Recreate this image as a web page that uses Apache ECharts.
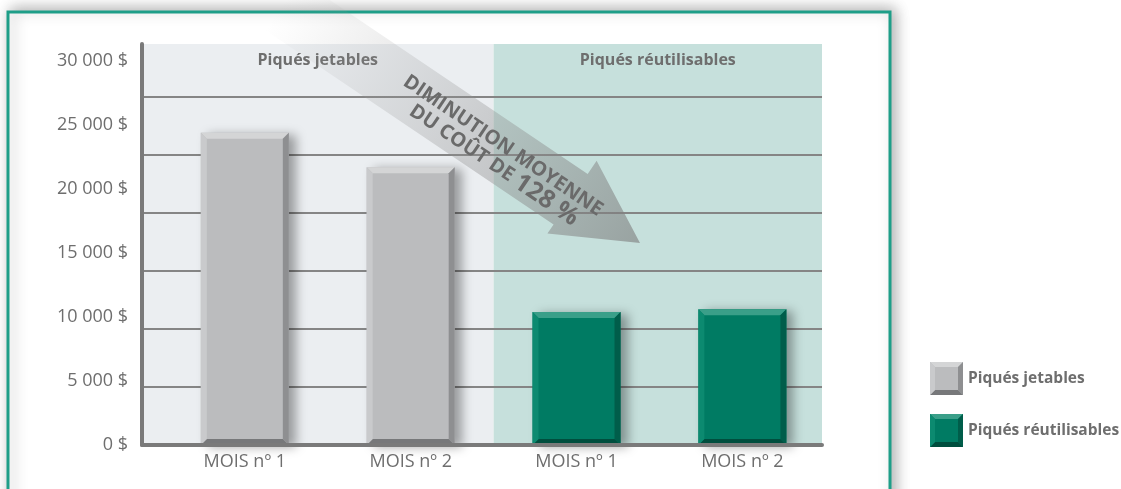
<!DOCTYPE html>
<html><head><meta charset="utf-8">
<script src="https://cdn.jsdelivr.net/npm/echarts@6/dist/echarts.min.js"></script>
<style>html,body{margin:0;padding:0;background:#fff}#c{width:1121px;height:489px}</style>
</head><body><div id="c"></div>
<script>
// ---- data ----
const categories = ['MOIS nº 1', 'MOIS nº 2', 'MOIS nº 1', 'MOIS nº 2'];
const seriesNames = ['Piqués jetables', 'Piqués réutilisables'];
const jetablesIdx = [0, 1];
const jetables = [24400, 21700];
const reutilisablesIdx = [2, 3];
const reutilisables = [10400, 10600];
const yTicks = [0, 5000, 10000, 15000, 20000, 25000, 30000];
const arrowLines = ['DIMINUTION MOYENNE', 'DU COÛT DE '];
const arrowPct = '128 %';

// ---- layout / style ----
const xMin = -0.62, xMax = 3.48, split = 1.5;
const yMax = 31330;
const gridMax = 6.9;
const barW = 88, bev = 6;
const FONT = "'Open Sans', sans-serif";
const txt = '#6e6e6e';

function fmt(v){ return String(v).replace(/\B(?=(\d{3})+(?!\d))/g, '\u00a0') + ' $'; }

function bevelShapes(c, l, r, t, b, withShadow){
  return [
    {type:'rect', shape:{x:l, y:t, width:r-l, height:b-t}, style:{fill:c.face, shadowBlur:withShadow?10:0, shadowColor:'rgba(0,0,0,0.35)', shadowOffsetX:withShadow?7:0, shadowOffsetY:withShadow?2:0}},
    {type:'polygon', shape:{points:[[l,t],[r,t],[r-bev,t+bev],[l+bev,t+bev]]}, style:{fill:c.top}},
    {type:'polygon', shape:{points:[[r,t],[r,b],[r-bev,b-bev],[r-bev,t+bev]]}, style:{fill:c.right}},
    {type:'polygon', shape:{points:[[l,b],[r,b],[r-bev,b-bev],[l+bev,b-bev]]}, style:{fill:c.bottom}},
    {type:'polygon', shape:{points:[[l,t],[l+bev,t+bev],[l+bev,b-bev],[l,b]]}, style:{fill:c.left}}
  ];
}
function bevelBar(c){
  return function(params, api){
    const x = api.value(0), v = api.value(1);
    const tp = api.coord([x, v]), bs = api.coord([x, 0]);
    return {type:'group', children:bevelShapes(c, tp[0]-barW/2, tp[0]+barW/2, tp[1], bs[1], true)};
  };
}
const greyC = {face:'#bbbcbe', top:'#d4d5d6', left:'#c9cacc', right:'#8e8f91', bottom:'#77787a'};
const greenC = {face:'#007b63', top:'#3a9f89', left:'#0c8a70', right:'#005d4a', bottom:'#004e3e'};

// legend icon image (bevelled square), drawn on a small canvas
function iconURL(c){
  const s = 33, k = 5, cv = document.createElement('canvas');
  cv.width = s; cv.height = s;
  const g = cv.getContext('2d');
  const poly = (pts, col) => { g.fillStyle = col; g.beginPath(); pts.forEach((p,i)=> i? g.lineTo(p[0],p[1]) : g.moveTo(p[0],p[1])); g.closePath(); g.fill(); };
  g.fillStyle = c.face; g.fillRect(0,0,s,s);
  poly([[0,0],[s,0],[s-k,k],[k,k]], c.top);
  poly([[s,0],[s,s],[s-k,s-k],[s-k,k]], c.right);
  poly([[0,s],[s,s],[s-k,s-k],[k,s-k]], c.bottom);
  poly([[0,0],[k,k],[k,s-k],[0,s]], c.left);
  return 'image://' + cv.toDataURL();
}

const chart = echarts.init(document.getElementById('c'), null, {renderer:'canvas'});

// arrow (local coords, tip at origin)
const tip = [640, 243], ang = 34 * Math.PI / 180;
const arrowFill = new echarts.graphic.LinearGradient(0,0,1,0,[
  {offset:0, color:'rgba(160,160,160,0)'},
  {offset:0.3, color:'rgba(150,150,150,0.2)'},
  {offset:1, color:'rgba(125,125,125,0.62)'}]);
const arrowFont = "bold 20px 'Open Sans', sans-serif";

const option = {
  animation:false,
  backgroundColor:'#fff',
  grid:{left:142, right:299, top:44, bottom:44, containLabel:false},
  xAxis:{type:'value', min:xMin, max:xMax, z:5,
    axisLine:{show:true, onZero:false, lineStyle:{color:'#7a7a7a', width:4}},
    axisTick:{show:false}, splitLine:{show:false},
    axisLabel:{show:true, customValues:[0,1,2,3], formatter:v=>categories[Math.round(v)],
      color:txt, fontFamily:FONT, fontSize:18, margin:8}},
  yAxis:[
    {type:'value', min:0, max:yMax, interval:5000, z:5,
      axisLine:{show:true, onZero:false, lineStyle:{color:'#7a7a7a', width:4}},
      axisTick:{show:false}, splitLine:{show:false},
      axisLabel:{color:txt, fontFamily:FONT, fontSize:18, margin:14, showMaxLabel:false,
        formatter:v=> yTicks.indexOf(v) >= 0 ? fmt(v) : ''}},
    {type:'value', min:0, max:gridMax, interval:1, z:2, position:'right',
      axisLine:{show:false, onZero:false}, axisTick:{show:false}, axisLabel:{show:false},
      splitLine:{show:true, showMinLine:false, showMaxLine:false, lineStyle:{color:'#858585', width:2}}}
  ],
  legend:{orient:'vertical', left:925, top:357, itemWidth:33, itemHeight:33, itemGap:19,
    data:[{name:seriesNames[0], icon:iconURL(greyC)}, {name:seriesNames[1], icon:iconURL(greenC)}],
    textStyle:{color:txt, fontFamily:FONT, fontWeight:'bold', fontSize:15.5}},
  series:[
    {name:'bg', type:'scatter', data:[], z:-5, silent:true,
      markArea:{silent:true, z:-5, data:[
        [{xAxis:xMin, yAxis:0, itemStyle:{color:'#ebeef1'}, name:seriesNames[0]}, {xAxis:split, yAxis:yMax}],
        [{xAxis:split, yAxis:0, itemStyle:{color:'#c6e0dc'}, name:seriesNames[1]}, {xAxis:xMax, yAxis:yMax}]
      ], label:{show:true, position:'insideTop', distance:8, color:txt, fontFamily:FONT, fontWeight:'bold', fontSize:16}}},
    {name:seriesNames[0], type:'custom', z:3, renderItem:bevelBar(greyC),
      itemStyle:{color:greyC.face},
      data:jetables.map((v,i)=>[jetablesIdx[i], v])},
    {name:seriesNames[1], type:'custom', z:3, renderItem:bevelBar(greenC),
      itemStyle:{color:greenC.face},
      data:reutilisables.map((v,i)=>[reutilisablesIdx[i], v])}
  ],
  graphic:[
    {type:'rect', z:-10, silent:true, shape:{x:8, y:12, width:882, height:500},
      style:{fill:'#ffffff', stroke:'#1e9e88', lineWidth:3, shadowBlur:14, shadowColor:'rgba(0,0,0,0.3)', shadowOffsetX:4, shadowOffsetY:-2}},
    {type:'group', x:tip[0], y:tip[1], rotation:-ang, z:20, silent:true, children:[
      {type:'polygon', z:20, shape:{points:[[-430,-28],[-82,-28],[-82,-44],[0,0],[-82,44],[-82,33],[-430,33]]},
        style:{fill:arrowFill}},
      {type:'text', z:21, x:-168, y:-4, style:{text:arrowLines[0], fill:'#6a6a6a', font:arrowFont, align:'center', verticalAlign:'middle'}},
      {type:'text', z:21, x:-165, y:17, style:{text:'{a|'+arrowLines[1]+'}{b|'+arrowPct+'}', align:'center', verticalAlign:'middle',
        rich:{a:{fill:'#6a6a6a', font:arrowFont}, b:{fill:'#6a6a6a', font:"bold 25px 'Open Sans', sans-serif"}}}}
    ]}
  ]
};
chart.setOption(option);
</script></body></html>
